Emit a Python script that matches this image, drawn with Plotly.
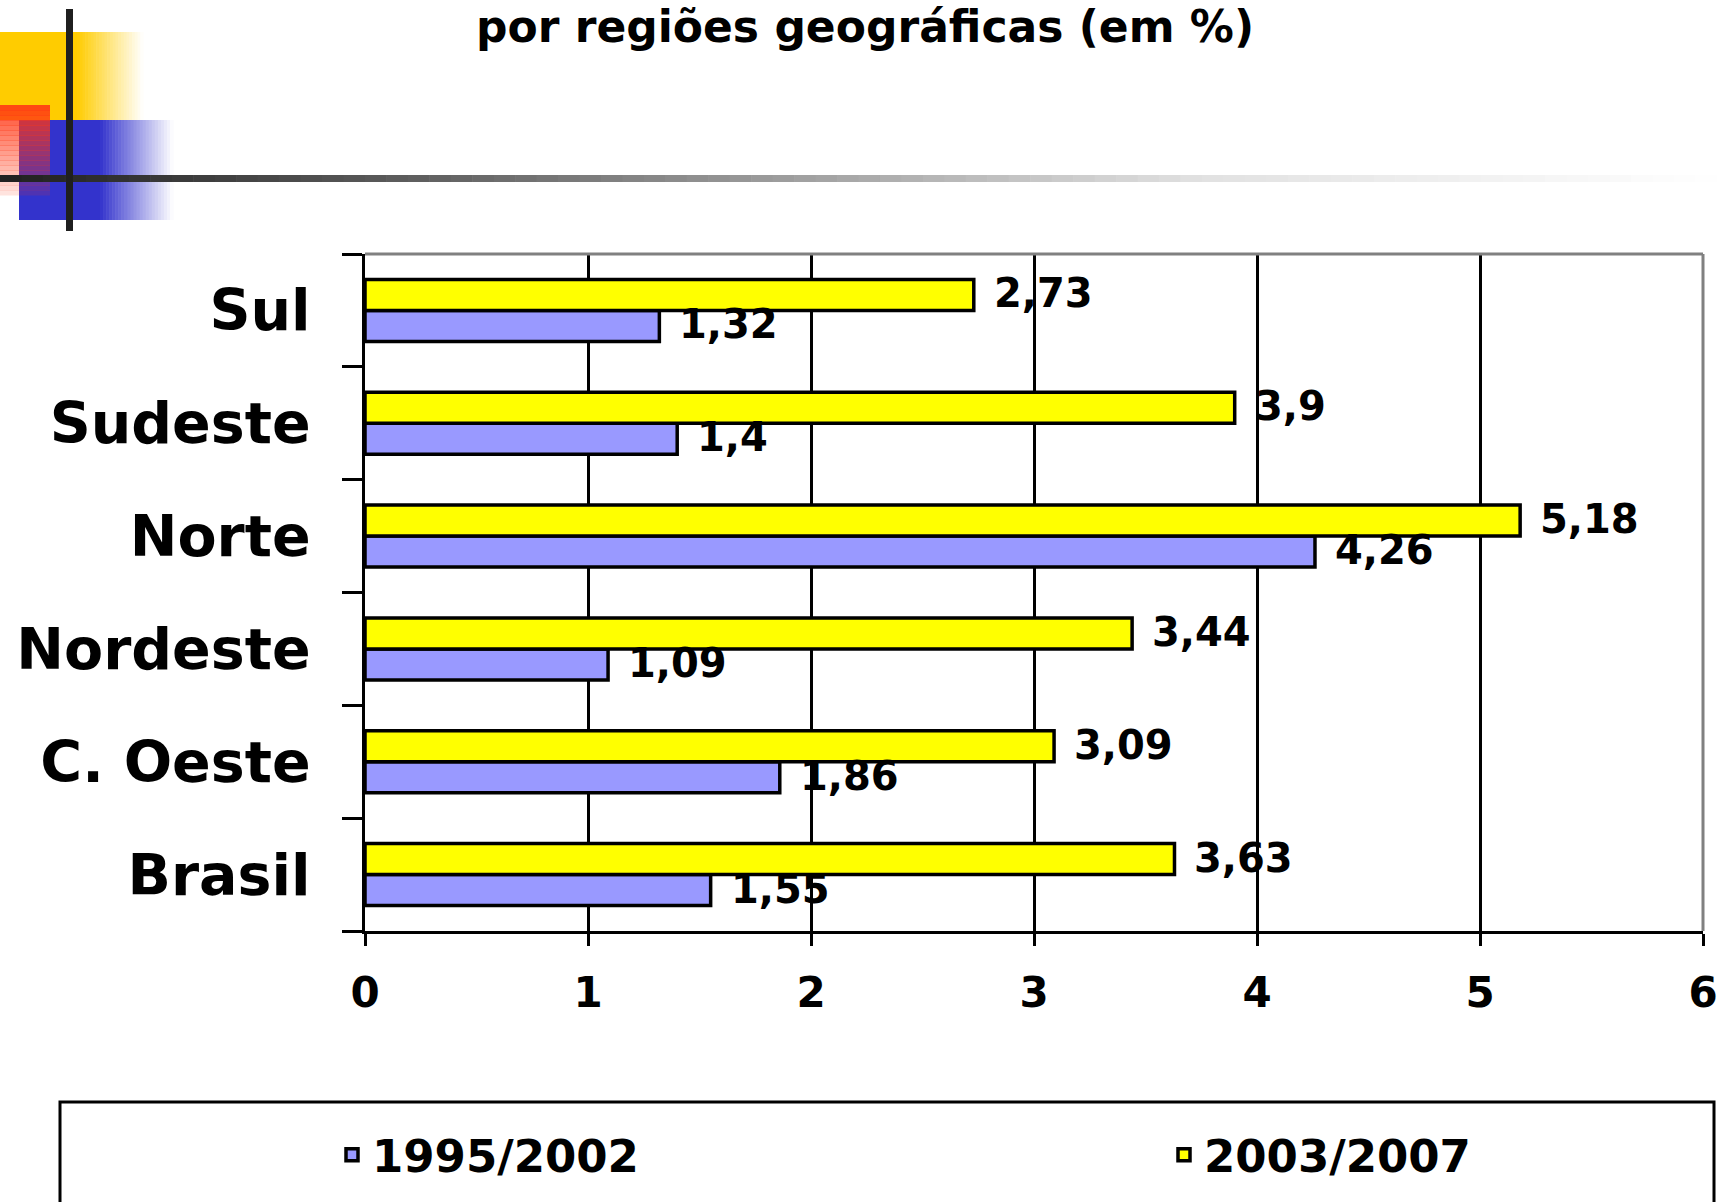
import plotly.graph_objects as go

# ---------------- data ----------------
regions = ["Sul", "Sudeste", "Norte", "Nordeste", "C. Oeste", "Brasil"]
v_1995_2002 = [1.32, 1.4, 4.26, 1.09, 1.86, 1.55]
v_2003_2007 = [2.73, 3.9, 5.18, 3.44, 3.09, 3.63]
series_names = ["1995/2002", "2003/2007"]
x_ticks = [0, 1, 2, 3, 4, 5, 6]
title_text = "por regiões geográficas (em %)"

# ---------------- geometry helpers ----------------
W, H = 1717, 1202
L, R, T, B = 365, 1703, 254, 931
PW, PH = R - L, B - T


def px(xp):
    return (xp - L) / PW


def py(yp):
    return (B - yp) / PH


def fmt(v):
    return f"{v:g}".replace(".", ",")


BLUE = "#9999FF"
YELLOW = "#FFFF00"
LBL_FONT = dict(family="DejaVu Sans", size=40, color="black", weight="bold")

fig = go.Figure()
fig.add_trace(go.Bar(
    y=regions, x=v_1995_2002, name=series_names[0], orientation="h",
    marker=dict(color=BLUE, line=dict(color="black", width=3.5)),
))
fig.add_trace(go.Bar(
    y=regions, x=v_2003_2007, name=series_names[1], orientation="h",
    marker=dict(color=YELLOW, line=dict(color="black", width=3.5)),
))

annotations = []
for reg, a, b in zip(regions, v_1995_2002, v_2003_2007):
    annotations.append(dict(x=b, y=reg, xref="x", yref="y", text=fmt(b), showarrow=False,
                            xanchor="left", yanchor="middle", xshift=18, yshift=17, font=LBL_FONT))
    annotations.append(dict(x=a, y=reg, xref="x", yref="y", text=fmt(a), showarrow=False,
                            xanchor="left", yanchor="middle", xshift=18, yshift=-14, font=LBL_FONT))

shapes = []


def rect(x0, y0, x1, y1, color, line=None):
    shapes.append(dict(type="rect", xref="paper", yref="paper",
                       x0=px(x0), x1=px(x1), y0=py(y1), y1=py(y0),
                       fillcolor=color, line=dict(width=0) if line is None else line,
                       layer="above"))


def mix(c, t):
    # blend colour c toward white by factor t (0 -> c, 1 -> white)
    return "rgb(%d,%d,%d)" % tuple(int(round(ci + (255 - ci) * t)) for ci in c)


# yellow block with horizontal fade
rect(0, 32, 77, 120, "rgb(255,204,0)")
N = 24
for i in range(N):
    xa = 77 + (143 - 77) * i / N
    xb = 77 + (143 - 77) * (i + 1) / N + 0.6
    rect(xa, 32, xb, 120, mix((255, 204, 0), (i + 0.5) / N))
# blue block with fade
rect(19, 120, 100, 220, "rgb(51,51,204)")
for i in range(N):
    xa = 100 + (173 - 100) * i / N
    xb = 100 + (173 - 100) * (i + 1) / N + 0.6
    rect(xa, 120, xb, 220, mix((51, 51, 204), (i + 0.5) / N))
# translucent red square with vertical fade
M = 18
for i in range(M):
    ya = 105 + 90 * i / M
    yb = 105 + 90 * (i + 1) / M + 0.4
    a = 0.88 - 0.74 * (i / (M - 1))
    rect(0, ya, 50, yb, "rgba(255,55,20,%.3f)" % a)
# horizontal gradient rule
stops = [(0, 31), (400, 92), (800, 160), (1200, 225), (1717, 255)]
K = 80
for i in range(K):
    xa = W * i / K
    xb = W * (i + 1) / K + 0.6
    xm = (xa + xb) / 2
    g = 255
    for (s0, g0), (s1, g1) in zip(stops[:-1], stops[1:]):
        if s0 <= xm <= s1:
            g = g0 + (g1 - g0) * (xm - s0) / (s1 - s0)
            break
    g = int(round(g))
    rect(xa, 175, xb, 182, "rgb(%d,%d,%d)" % (g, g, g))
# vertical black rule
rect(66, 9, 73, 231, "rgb(31,31,31)")

# gray plot border (top and right)
shapes.append(dict(type="line", xref="paper", yref="paper", x0=0, x1=1, y0=1, y1=1,
                   line=dict(color="#808080", width=3), layer="above"))
shapes.append(dict(type="line", xref="paper", yref="paper", x0=1, x1=1, y0=0, y1=1,
                   line=dict(color="#808080", width=3), layer="above"))
# legend box
shapes.append(dict(type="rect", xref="paper", yref="paper",
                   x0=px(60), x1=px(1714), y0=py(1240), y1=py(1102),
                   line=dict(color="black", width=3), fillcolor="rgba(0,0,0,0)", layer="above"))

fig.update_layout(
    width=W, height=H,
    margin=dict(l=L, r=W - R, t=T, b=H - B, autoexpand=False),
    paper_bgcolor="white", plot_bgcolor="white",
    barmode="group", bargap=0.45, bargroupgap=0,
    showlegend=True,
    legend=dict(orientation="h", x=px(332), xanchor="left", y=py(1155), yanchor="middle",
                font=dict(family="DejaVu Sans", size=45, color="black", weight="bold"),
                entrywidth=787, entrywidthmode="pixels", bgcolor="rgba(0,0,0,0)",
                borderwidth=0, traceorder="normal"),
    title=dict(text=title_text, x=865 / W, xanchor="center", y=1 - 27 / H, yanchor="middle",
               xref="container", yref="container",
               font=dict(family="DejaVu Sans", size=44, color="black", weight="bold")),
    xaxis=dict(range=[0, 6], tickvals=x_ticks, ticktext=[str(t) for t in x_ticks],
               showgrid=True, gridcolor="black", gridwidth=3, zeroline=False,
               showline=True, linecolor="black", linewidth=3,
               ticks="outside", ticklen=12, tickwidth=3, tickcolor="black",
               ticklabelstandoff=11, ticklabeloverflow="allow",
               tickfont=dict(family="DejaVu Sans", size=42, color="black", weight="bold"),
               fixedrange=True),
    yaxis=dict(type="category", categoryorder="array", categoryarray=regions[::-1],
               showgrid=False, zeroline=False,
               showline=True, linecolor="black", linewidth=3,
               ticks="outside", tickson="boundaries", ticklen=20, tickwidth=3, tickcolor="black",
               ticklabelstandoff=40,
               tickfont=dict(family="DejaVu Sans", size=57, color="black", weight="bold"),
               fixedrange=True),
    annotations=annotations,
    shapes=shapes,
)

fig.write_html(
    "out.html",
    config={"displayModeBar": False},
    post_script="document.body.style.margin='0';document.body.style.overflow='hidden';",
)
